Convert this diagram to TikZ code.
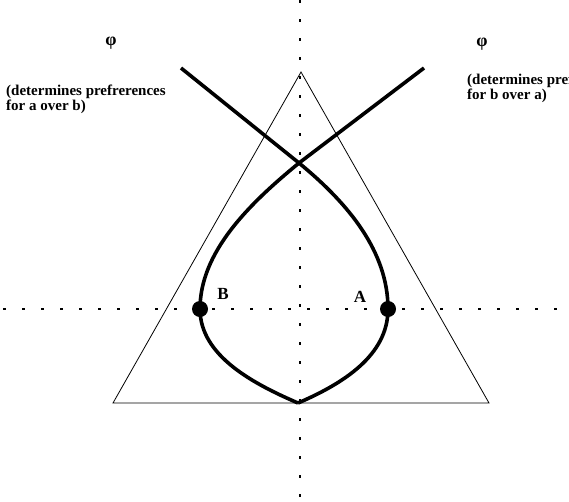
\documentclass[tikz,border=0pt]{standalone}
\usepackage{fontspec}
\setmainfont{Liberation Serif}
\usetikzlibrary{positioning}

\begin{document}
\begin{tikzpicture}[
  x=1pt, y=-1pt,
  font=\bfseries\fontsize{15}{13.5}\selectfont,
  axis/.style={line width=2.4pt, dash pattern=on 2.6pt off 16.4pt},
  tri/.style={line width=0.8pt},
  curve/.style={line width=3.6pt, line join=round},
  dot/.style={circle, fill=black, inner sep=0pt, minimum size=16pt},
  lbl/.style={inner sep=0pt, font=\bfseries\fontsize{17}{17}\selectfont},
  phi/.style={inner sep=0pt, font=\bfseries\fontsize{18}{18}\selectfont},
  note/.style={align=left, inner sep=0pt, anchor=west}
]
\useasboundingbox (0,0) rectangle (569,501);
\clip (0,0) rectangle (569,501);

% dotted axes
\coordinate (vtop) at (300,0);
\coordinate (vbot) at (300,501);
\coordinate (hl) at (3,309);
\coordinate (hr) at (569,309);
\draw[axis] (vtop) -- (vbot);
\draw[axis] (hl) -- (hr);

% triangle
\coordinate (apex) at (301,72);
\coordinate (bl) at (113,403);
\coordinate (br) at (489,403);
\draw[tri] (apex) -- (bl) -- (br) -- cycle;

% the two curves
\coordinate (s1) at (181,68);
\coordinate (s2) at (424,68);
\coordinate (x) at (299,163);
\coordinate (p) at (298,403);
\node[dot] (a) at (388,309) {};
\node[dot] (b) at (200,309) {};
\draw[curve] (s1) -- (x) .. controls (349,204) and (388,252) .. (a.center)
  .. controls (388,356) and (342,384) .. (p);
\draw[curve] (s2) -- (x) .. controls (249,204) and (200,252) .. (b.center)
  .. controls (200,356) and (254,384) .. (p);

\node[lbl] (la) at (360,297) {A};
\node[lbl] (lb) at (223,294) {B};

% labels for the two sides
\node[phi] (phil) at (111,43) {φ};
\node[note] (notel) at (6,99) {(determines prefrerences\\for a over b)};
\node[phi] (phir) at (482,44) {φ};
\node[note] (noter) at (467,88) {(determines prefrerences\\for b over a)};

\end{tikzpicture}
\end{document}
